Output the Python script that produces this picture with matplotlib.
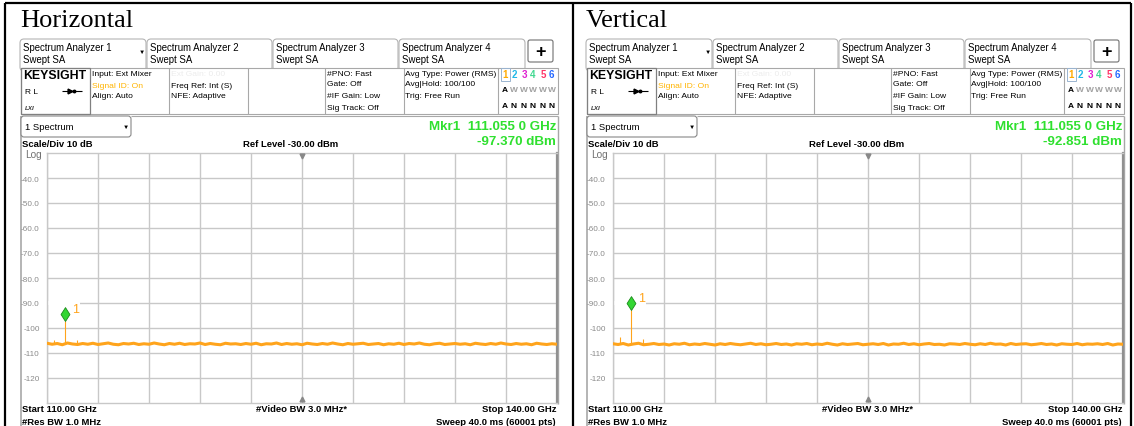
import numpy as np
import matplotlib
matplotlib.use("Agg")
import matplotlib.pyplot as plt
from matplotlib.patches import Rectangle, FancyBboxPatch
from matplotlib.path import Path

# ---------------- data ----------------
panel_titles = ["Horizontal", "Vertical"]
start_ghz = 110.0
stop_ghz = 140.0
ref_level = -30.0
scale_div = 10
y_tick_values = [-40, -50, -60, -70, -80, -90, -100, -110, -120]
y_tick_labels = ["-40.0", "-50.0", "-60.0", "-70.0", "-80.0", "-90.0", "-100", "-110", "-120"]
marker_freq = 111.055
marker_levels = [-97.370, -92.851]
noise_floor = [-106.4, -106.5]

noise_h = [-106.1, -106.5, -106.2, -106.7, -106.0, -106.4, -106.6, -106.2, -106.5, -106.1,
           -106.6, -106.3, -106.0, -106.5, -106.7, -106.2, -106.4, -106.1, -106.6, -106.3,
           -106.5, -106.0, -106.4, -106.7, -106.2, -106.5, -106.1, -106.6, -106.3, -106.4,
           -106.0, -106.6, -106.2, -106.5, -106.7, -106.1, -106.4, -106.3, -106.6, -106.2,
           -106.5, -106.1, -106.7, -106.3, -106.4, -106.0, -106.6, -106.2, -106.5, -106.3,
           -106.7, -106.1, -106.4, -106.6, -106.2, -106.5, -106.0, -106.4, -106.7, -106.2,
           -106.5, -106.3, -106.1, -106.6, -106.4, -106.2, -106.7, -106.3, -106.5, -106.1,
           -106.6, -106.2, -106.4, -106.0, -106.5, -106.7, -106.3, -106.1, -106.6, -106.4,
           -106.2, -106.5, -106.3, -106.7, -106.1, -106.4, -106.6, -106.2, -106.5, -106.0,
           -106.4, -106.6, -106.2, -106.5, -106.3, -106.7, -106.1, -106.4, -106.6, -106.3,
           -106.5]
noise_v = [-106.3, -106.6, -106.2, -106.8, -106.4, -106.1, -106.7, -106.5, -106.2, -106.6,
           -106.4, -106.8, -106.3, -106.5, -106.1, -106.7, -106.4, -106.6, -106.2, -106.5,
           -106.8, -106.3, -106.6, -106.2, -106.5, -106.7, -106.4, -106.1, -106.6, -106.3,
           -106.7, -106.5, -106.2, -106.6, -106.4, -106.8, -106.3, -106.5, -106.2, -106.7,
           -106.4, -106.6, -106.1, -106.5, -106.8, -106.3, -106.6, -106.4, -106.2, -106.7,
           -106.5, -106.3, -106.6, -106.2, -106.8, -106.4, -106.5, -106.1, -106.6, -106.3,
           -106.7, -106.4, -106.2, -106.6, -106.5, -106.8, -106.3, -106.4, -106.6, -106.2,
           -106.5, -106.7, -106.3, -106.6, -106.1, -106.5, -106.4, -106.8, -106.2, -106.6,
           -106.4, -106.3, -106.7, -106.5, -106.2, -106.6, -106.4, -106.8, -106.3, -106.5,
           -106.6, -106.2, -106.7, -106.4, -106.5, -106.3, -106.6, -106.2, -106.8, -106.4,
           -106.5]
noise_traces = [noise_h, noise_v]
spike_freqs = [[110.4, 111.75], [110.4, 111.75]]
spike_levels = [[-104.8, -104.6], [-103.5, -104.3]]

tab_names = ["Spectrum Analyzer 1", "Spectrum Analyzer 2", "Spectrum Analyzer 3", "Spectrum Analyzer 4"]

# ---------------- figure ----------------
W, H = 1134, 427
fig = plt.figure(figsize=(W / 100, H / 100), dpi=100)
bg = fig.add_axes([0, 0, 1, 1])
bg.set_xlim(0, W)
bg.set_ylim(H, 0)
bg.axis("off")

SANS = ["Liberation Sans", "DejaVu Sans"]
SERIF = ["Liberation Serif", "DejaVu Serif"]
ORANGE = "#ffa41c"
GREEN = "#2fe02f"
GRID = "#c8c8c8"
BORDER = "#a8a8a8"


def T(x, y, s, size=6.0, color="black", weight="normal", ha="left", va="center",
      family=SANS, style="normal"):
    bg.text(x, y, s, fontsize=size, color=color, fontweight=weight, ha=ha, va=va,
            family=family, fontstyle=style)


def R(x0, y0, x1, y1, ec=BORDER, lw=0.8, fc="none", z=1):
    bg.add_patch(Rectangle((x0, y0), x1 - x0, y1 - y0, ec=ec, fc=fc, lw=lw, zorder=z))


def L(xs, ys, color=BORDER, lw=0.8, z=2):
    bg.plot(xs, ys, color=color, lw=lw, solid_capstyle="butt", zorder=z)


diamond = Path([(0, 0), (0.32, 0.5), (0, 1), (-0.32, 0.5), (0, 0)],
               [Path.MOVETO, Path.LINETO, Path.LINETO, Path.LINETO, Path.CLOSEPOLY])

trace_colors = ["#ffaa00", "#22b8e8", "#e020d0", "#40d890", "#ff3366", "#2266ff"]

for p, title in enumerate(panel_titles):
    dx = 566 * p
    # title
    T(20 + dx, 21, title, size=19, family=SERIF)

    # tabs
    tab_x = [(20, 146), (147, 272), (273, 398), (399, 525)]
    for (x0, x1), name in zip(tab_x, tab_names):
        bg.add_patch(FancyBboxPatch((x0 + dx, 40), x1 - x0, 32,
                                    boxstyle="round,pad=0,rounding_size=4",
                                    ec="#b4b4b4", fc="white", lw=0.8, zorder=1))
        T(x0 + 3 + dx, 48, name, 6.9)
        T(x0 + 3 + dx, 60, "Swept SA", 6.9)
    T(142 + dx, 52, "\u25bc", 4.5, ha="center")
    bg.add_patch(FancyBboxPatch((528 + dx, 41), 25, 22, boxstyle="round,pad=0,rounding_size=2",
                                ec="#707070", fc="white", lw=0.8, zorder=1))
    T(540.5 + dx, 52, "+", 13, weight="bold", ha="center")

    # info row
    R(21 + dx, 69, 558 + dx, 115, fc="white", z=3)
    for xd in [169, 248, 325, 404, 498]:
        L([xd + dx, xd + dx], [69, 115], z=4)
    R(21 + dx, 69, 90 + dx, 115, ec="#808080", lw=0.9, z=4)
    T(23 + dx, 76, "KEYSIGHT", 8.8, weight="bold")
    T(25 + dx, 92, "R L", 6)
    L([62 + dx, 82 + dx], [92, 92], color="black", lw=0.8, z=5)
    bg.plot(70 + dx, 92, marker=">", ms=3.5, color="black", zorder=5)
    bg.plot(74 + dx, 92, marker="o", ms=1.8, color="black", zorder=5)
    T(25 + dx, 109, "LXI", 4.5, weight="bold", style="italic", color="#333333")

    T(92 + dx, 74, "Input: Ext Mixer", 6.1)
    T(92 + dx, 86, "Signal ID: On", 6.1, color="#ffb400")
    T(92 + dx, 97, "Align: Auto", 6.1)
    T(171 + dx, 74, "Ext Gain: 0.00", 6.1, color="#ececec")
    T(171 + dx, 86, "Freq Ref: Int (S)", 6.1)
    T(171 + dx, 97, "NFE: Adaptive", 6.1)
    T(327 + dx, 74, "#PNO: Fast", 6.1)
    T(327 + dx, 85, "Gate: Off", 6.1)
    T(327 + dx, 97, "#IF Gain: Low", 6.1)
    T(327 + dx, 108, "Sig Track: Off", 6.1)
    T(405 + dx, 74, "Avg Type: Power (RMS)", 6.1)
    T(405 + dx, 85, "Avg|Hold: 100/100", 6.1)
    T(405 + dx, 97, "Trig: Free Run", 6.1)
    num_x = [505, 514, 524, 533, 543, 551.5]
    R(501 + dx, 68.5, 509.5 + dx, 82, ec="#9ab4d0", lw=0.7, z=4)
    for k, xx in enumerate(num_x):
        T(xx + dx, 75.5, str(k + 1), 7, color=trace_colors[k], ha="center", weight="bold")
        T(xx + dx, 91, "A" if k == 0 else "W", 6, color="black" if k == 0 else "#a0a0a0",
          ha="center", weight="bold")
        T(xx + dx, 106, "A" if k == 0 else "N", 6, ha="center", weight="bold")

    # screen frame lines
    L([131 + dx, 558 + dx], [117, 117])
    L([558 + dx, 558 + dx], [117, 405], lw=1.0)
    L([20.5 + dx, 20.5 + dx], [117, 427], lw=1.2)
    bg.add_patch(FancyBboxPatch((21 + dx, 117), 110, 21, boxstyle="round,pad=0,rounding_size=3",
                                ec="#888888", fc="white", lw=0.8, zorder=3))
    T(25 + dx, 127.5, "1 Spectrum", 6.8)
    T(126 + dx, 127.5, "\u25bc", 4.5, ha="center")

    lvl = marker_levels[p]
    T(556 + dx, 127, f"Mkr1  {marker_freq:.3f} 0 GHz", 9.6, color=GREEN, weight="bold", ha="right")
    T(556 + dx, 142, f"{lvl:.3f} dBm", 9.6, color=GREEN, weight="bold", ha="right")
    T(22 + dx, 145, f"Scale/Div {scale_div} dB", 6.8, weight="bold")
    T(291 + dx, 145, f"Ref Level {ref_level:.2f} dBm", 6.8, weight="bold", ha="center")
    T(25 + dx, 155.5, "Log", 7.2, color="#707070")

    T(22 + dx, 410, f"Start {start_ghz:.2f} GHz", 6.8, weight="bold")
    T(22 + dx, 422.5, "#Res BW 1.0 MHz", 6.8, weight="bold")
    T(302 + dx, 410, "#Video BW 3.0 MHz*", 6.8, weight="bold", ha="center")
    T(556 + dx, 410, f"Stop {stop_ghz:.2f} GHz", 6.8, weight="bold", ha="right")
    T(556 + dx, 422.5, "Sweep 40.0 ms (60001 pts)", 6.8, weight="bold", ha="right")

    # ---------- data axes ----------
    ax = fig.add_axes([(47 + dx) / W, (H - 404) / H, 510 / W, 250 / H])
    ax.set_xlim(start_ghz, stop_ghz)
    ax.set_ylim(ref_level - 10 * scale_div, ref_level)
    ax.set_xticks(np.linspace(start_ghz, stop_ghz, 11))
    ax.set_xticklabels([])
    ax.set_yticks(y_tick_values)
    ax.set_yticklabels(y_tick_labels)
    ax.tick_params(length=0, pad=5.2, labelsize=5.9, labelcolor="#8a8a8a")
    for lab in ax.get_yticklabels():
        lab.set_family(SANS)
    ax.set_axisbelow(True)
    ax.grid(True, color=GRID, lw=1.0)
    for side in ["top", "left", "bottom"]:
        ax.spines[side].set_color(GRID)
        ax.spines[side].set_linewidth(1.0)
    ax.spines["right"].set_color("#909090")
    ax.spines["right"].set_linewidth(1.6)

    # gap in -90 grid line behind the marker label
    ax.add_patch(Rectangle((start_ghz, -90.7), 1.95, 1.4, fc="white", ec="none", zorder=1))

    center = (start_ghz + stop_ghz) / 2
    ax.plot(center, ref_level - 1.2, marker="v", ms=3.5, color="#888888", zorder=3, clip_on=False)
    ax.plot(center, ref_level - 10 * scale_div + 1.5, marker="^", ms=3.5, color="#888888",
            zorder=3, clip_on=False)

    vals = noise_traces[p]
    freqs = np.linspace(start_ghz, stop_ghz, len(vals))
    ax.plot(freqs, vals, color=ORANGE, lw=2.2, zorder=3)
    ax.vlines(spike_freqs[p], noise_floor[p], spike_levels[p], color=ORANGE, lw=0.8, zorder=3)
    ax.vlines(marker_freq, noise_floor[p], lvl, color=ORANGE, lw=0.8, zorder=3)
    ax.plot(marker_freq, lvl, marker=diamond, ms=20, mfc="#33d633", mec="#1a8a1a",
            mew=0.6, zorder=5, clip_on=False)
    ax.annotate("1", (marker_freq, lvl), xytext=(5.0, 8.8), textcoords="offset points",
                color=ORANGE, fontsize=9, ha="left", va="center", family=SANS, zorder=6)

# black outer frame
L([5, 5], [4, 427], color="black", lw=1.6, z=10)
L([5, 1131], [4, 4], color="black", lw=1.6, z=10)
L([572.5, 572.5], [4, 427], color="black", lw=1.6, z=10)
L([1131, 1131], [4, 427], color="black", lw=1.6, z=10)

fig.savefig("out.png", dpi=100)
